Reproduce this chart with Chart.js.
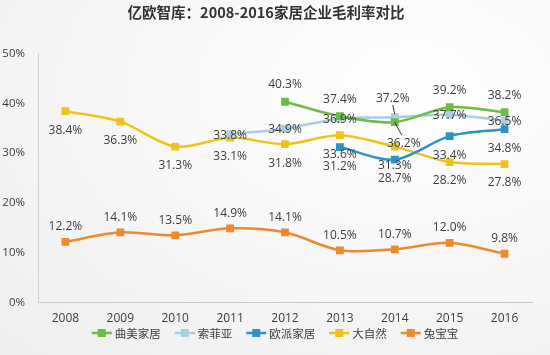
<!DOCTYPE html>
<html><head><meta charset="utf-8">
<script src="https://cdn.jsdelivr.net/npm/chart.js@4/dist/chart.umd.min.js"></script>
<style>
html,body{margin:0;padding:0;}
body{width:550px;height:355px;background:radial-gradient(ellipse at 75% 25%, #ffffff 0%, #f6f6f6 55%, #eeeeee 100%);}
#wrap{width:550px;height:355px;position:relative;}
</style></head>
<body><div id="wrap"><canvas id="c" width="550" height="355"></canvas></div>
<script>
const titleText = '亿欧智库：2008-2016家居企业毛利率对比';
const years = ['2008','2009','2010','2011','2012','2013','2014','2015','2016'];
const seriesNames = ['曲美家居','索菲亚','欧派家居','大自然','兔宝宝'];
const qumei    = [null, null, null, null, 40.3, 37.4, 36.2, 39.2, 38.2];
const suofeiya = [null, null, null, 33.8, 34.9, 36.9, 37.2, 37.7, 36.5];
const oupai    = [null, null, null, null, null, 31.2, 28.7, 33.4, 34.8];
const daziran  = [38.4, 36.3, 31.3, 33.1, 31.8, 33.6, 31.3, 28.2, 27.8];
const tubaobao = [12.2, 14.1, 13.5, 14.9, 14.1, 10.5, 10.7, 12.0, 9.8];
const yMin = 0, yMax = 50, yStep = 10;

const colors = ['#6cbd45','#a9cde2','#2a94c6','#f0c31c','#ec8a2c'];
const seriesData = [qumei, suofeiya, oupai, daziran, tubaobao];
const FONT = '"Open Sans","Noto Sans CJK SC",sans-serif';
const CJK = '"Noto Sans CJK SC",sans-serif';
const TXT = '#3d3d3d';

// label placement styles per dataset (vertical offset) and special cases
const labelDy = [-17, 1, 19, 19, -15];
const labelSpecial = {
  '0-6': {dx: 9, dy: 21, leader: true},
  '1-6': {dx: -2, dy: -19, leader: true}
};

const labelPlugin = {
  id: 'pctLabels',
  afterDatasetsDraw(chart){
    const ctx = chart.ctx;
    ctx.save();
    ctx.font = '12px ' + FONT;
    ctx.fillStyle = TXT;
    ctx.textAlign = 'center';
    ctx.textBaseline = 'middle';
    chart.data.datasets.forEach((ds, di) => {
      const meta = chart.getDatasetMeta(di);
      meta.data.forEach((pt, i) => {
        const v = ds.data[i];
        if (v === null || v === undefined) return;
        const sp = labelSpecial[di + '-' + i];
        const dx = sp ? sp.dx : 0;
        const dy = sp ? sp.dy : labelDy[di];
        const lx = pt.x + dx, ly = pt.y + dy;
        if (sp && sp.leader){
          ctx.save();
          ctx.strokeStyle = '#333'; ctx.lineWidth = 1;
          ctx.beginPath();
          if (dy > 0){ ctx.moveTo(pt.x, pt.y); ctx.lineTo(lx - 2, ly - 8); }
          else { ctx.moveTo(lx, ly + 7); ctx.lineTo(pt.x, pt.y - 3); }
          ctx.stroke();
          ctx.restore();
        }
        ctx.fillText(v.toFixed(1) + '%', lx, ly);
      });
    });
    ctx.restore();
  }
};

// bottom legend: line + square marker followed by the series name
const legendPlugin = {
  id: 'lineLegend',
  afterDraw(chart){
    const ctx = chart.ctx;
    ctx.save();
    ctx.font = '11.5px ' + CJK;
    ctx.textBaseline = 'middle';
    ctx.textAlign = 'left';
    const mk = 20, gap = 3, sep = 14;
    const dss = chart.data.datasets;
    const widths = dss.map(d => mk + gap + ctx.measureText(d.label).width);
    const total = widths.reduce((a, b) => a + b, 0) + sep * (dss.length - 1);
    let x = chart.width / 2 - total / 2;
    const y = 333;
    dss.forEach((d, i) => {
      ctx.strokeStyle = d.borderColor; ctx.lineWidth = 2.5;
      ctx.beginPath(); ctx.moveTo(x, y); ctx.lineTo(x + mk, y); ctx.stroke();
      ctx.fillStyle = d.borderColor; ctx.fillRect(x + mk / 2 - 4, y - 4, 8, 8);
      ctx.fillStyle = TXT;
      ctx.fillText(d.label, x + mk + gap, y + 0.5);
      x += widths[i] + sep;
    });
    ctx.restore();
  }
};

new Chart(document.getElementById('c'), {
  type: 'line',
  data: {
    labels: years,
    datasets: seriesNames.map((n, i) => ({
      label: n,
      data: seriesData[i],
      borderColor: colors[i],
      backgroundColor: colors[i],
      borderWidth: 2.5,
      pointStyle: 'rect',
      pointRadius: 5.5,
      pointBorderWidth: 0,
      pointBackgroundColor: colors[i],
      tension: 0.3,
      spanGaps: false,
      fill: false
    }))
  },
  options: {
    responsive: false,
    animation: false,
    layout: {padding: {left: 0, right: 18, top: 0, bottom: 20}},
    plugins: {
      title: {display: true, text: titleText, color: '#333',
        font: {family: CJK, size: 14.5, weight: 'bold'},
        padding: {top: 4, bottom: 32}},
      legend: {display: false},
      tooltip: {enabled: false}
    },
    scales: {
      x: {offset: true,
        grid: {display: false, drawTicks: false},
        border: {display: true, color: '#c8c8c8', width: 1},
        ticks: {color: TXT, font: {family: FONT, size: 12}, padding: 9}},
      y: {min: yMin, max: yMax,
        grid: {display: false, drawTicks: false},
        border: {display: true, color: '#d0d0d0', width: 1},
        afterFit(s){ s.width = 38; },
        ticks: {stepSize: yStep, color: TXT, font: {family: FONT, size: 11.5}, padding: 13,
          callback: v => v + '%'}}
    }
  },
  plugins: [labelPlugin, legendPlugin]
});
</script>
</body></html>
